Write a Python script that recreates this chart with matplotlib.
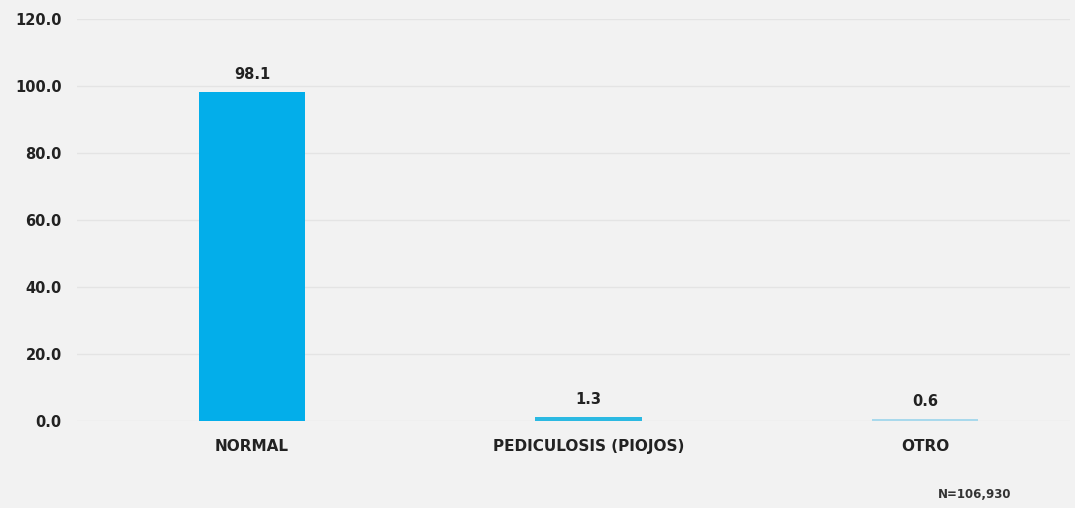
import matplotlib.pyplot as plt

# Data
categories = ['NORMAL', 'PEDICULOSIS (PIOJOS)', 'OTRO']
values = [98.1, 1.3, 0.6]
bar_colors = ['#03aeea', '#2bb9e2', '#a9d9ec']
yticks = [0, 20, 40, 60, 80, 100, 120]
note = 'N=106,930'

plt.rcParams['font.family'] = ['DejaVu Sans']

fig = plt.figure(figsize=(10.75, 5.08), dpi=100, facecolor='#f2f2f2')
ax = fig.add_axes([0.0716, 0.171, 0.9234, 0.7916])
ax.set_facecolor('#f2f2f2')

x = list(range(len(categories)))
ax.bar(x, values, width=0.317, color=bar_colors, zorder=3)

for xi, v in zip(x, values):
    ax.text(xi, v + 3, f'{v:.1f}', ha='center', va='bottom',
            fontsize=10.5, fontweight='bold', color='#222222')

# category centres sit a bit right of the usual -0.5..2.5 span
ax.set_xlim(-0.52, 2.43)
ax.set_ylim(0, 120)
ax.set_yticks(yticks)
ax.set_yticklabels([f'{t:.1f}' for t in yticks], fontsize=10.5,
                   fontweight='bold', color='#222222')
ax.set_xticks(x)
ax.set_xticklabels(categories, fontsize=11, fontweight='bold', color='#222222')
ax.tick_params(axis='both', length=0)
ax.tick_params(axis='y', pad=11)
ax.tick_params(axis='x', pad=13)

ax.grid(axis='y', color='#e4e4e4', linewidth=1, zorder=0)
for s in ax.spines.values():
    s.set_visible(False)

fig.text(0.907, 0.02, note, fontsize=8.5, fontweight='bold',
         color='#333333', ha='center')

fig.savefig('out.png', dpi=100, facecolor=fig.get_facecolor())
